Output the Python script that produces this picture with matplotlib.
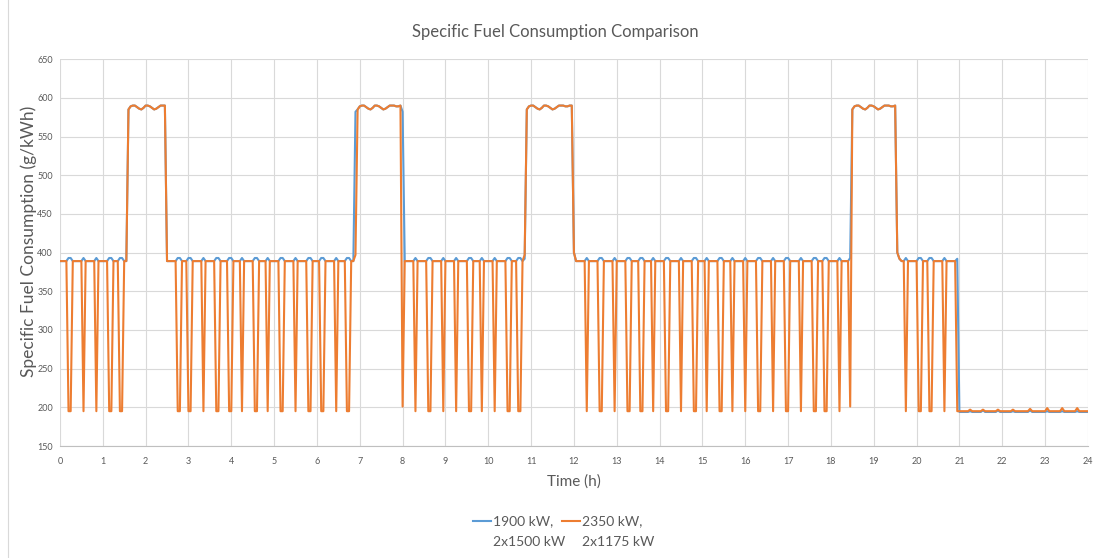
import numpy as np
import matplotlib
matplotlib.use("Agg")
import matplotlib.pyplot as plt
from matplotlib.lines import Line2D

plt.rcParams['font.family'] = ['Lato', 'DejaVu Sans']

# simulation is sampled every 3 minutes
step = 0.05
hours = np.round(np.arange(0, 24 + step / 2, step), 2)

base_sfc = 389      # g/kWh, normal load
bump_sfc = 393      # 1900 kW set while the 2350 kW set drops
low_sfc = 195       # 2350 kW set running low
night_sfc_2350 = 195
night_sfc_1900 = 194

# (first, last) hour of each drop of the 2350 kW series
dips_2350 = [
    (0.20, 0.25), (0.55, 0.55), (0.85, 0.85), (1.15, 1.20), (1.40, 1.45),
    (2.75, 2.80), (3.00, 3.05), (3.35, 3.35), (3.65, 3.70), (3.95, 4.00),
    (4.25, 4.25), (4.55, 4.60), (4.85, 4.85), (5.15, 5.20), (5.50, 5.50),
    (5.80, 5.85), (6.10, 6.15), (6.45, 6.45), (6.70, 6.75),
    (8.30, 8.30), (8.60, 8.65), (8.95, 8.95), (9.25, 9.25), (9.55, 9.60),
    (9.85, 9.85), (10.15, 10.15), (10.45, 10.50), (10.70, 10.75),
    (12.30, 12.30), (12.60, 12.65), (12.95, 12.95), (13.25, 13.30),
    (13.55, 13.60), (13.85, 13.85), (14.15, 14.20), (14.50, 14.50),
    (14.80, 14.85), (15.10, 15.10), (15.40, 15.45), (15.70, 15.70),
    (16.00, 16.00), (16.30, 16.35), (16.65, 16.65), (16.95, 17.00),
    (17.30, 17.30), (17.60, 17.65), (17.85, 17.90), (18.20, 18.20),
    (18.45, 18.45),
    (19.75, 19.75), (20.05, 20.10), (20.30, 20.35), (20.65, 20.65),
]

# (first, last) hour of the high-consumption plateaus
peaks_2350 = [(1.60, 2.45), (6.95, 7.95), (10.90, 11.95), (18.50, 19.50)]
peaks_1900 = [(1.60, 2.45), (6.95, 7.95), (10.90, 11.95), (18.50, 19.50)]
peak_wave = [585, 589, 590, 590, 588, 586, 585, 587, 590, 590, 589,
             587, 585, 586, 588, 590, 590, 590, 589, 589, 590, 590]

# single points on the ramps into / out of the plateaus
ramps_2350 = {6.90: 397, 8.00: 201, 10.85: 397, 12.00: 400,
              18.45: 201, 19.55: 400, 19.60: 392, 20.90: base_sfc}
ramps_1900 = {6.90: 582, 8.00: 582, 10.85: 392, 12.00: 400,
              19.55: 400, 19.60: 392, 20.90: base_sfc, 20.95: 392}

night_start_2350 = 20.95
night_start_1900 = 21.00
night_bumps_2350 = {21.25: 197, 21.55: 197, 21.90: 197, 22.25: 197,
                    22.65: 198, 23.05: 199, 23.40: 199, 23.75: 199}
night_bumps_1900 = {21.25: 195, 21.55: 196, 21.90: 196, 22.25: 195,
                    22.65: 196, 23.05: 195, 23.40: 195, 23.75: 195}


def idx(h):
    return int(round(h / step))


sfc_2350 = np.full(hours.size, base_sfc, dtype=float)
sfc_1900 = np.full(hours.size, base_sfc, dtype=float)

for a, b in dips_2350:
    sfc_2350[idx(a):idx(b) + 1] = low_sfc
    sfc_1900[idx(a):idx(b) + 1] = bump_sfc

for a, b in peaks_2350:
    sfc_2350[idx(a):idx(b) + 1] = peak_wave[:idx(b) - idx(a) + 1]
for a, b in peaks_1900:
    sfc_1900[idx(a):idx(b) + 1] = peak_wave[:idx(b) - idx(a) + 1]

for h, v in ramps_2350.items():
    sfc_2350[idx(h)] = v
for h, v in ramps_1900.items():
    sfc_1900[idx(h)] = v

sfc_2350[idx(night_start_2350):] = night_sfc_2350
sfc_1900[idx(night_start_1900):] = night_sfc_1900
for h, v in night_bumps_2350.items():
    sfc_2350[idx(h)] = v
for h, v in night_bumps_1900.items():
    sfc_1900[idx(h)] = v

labels = ['1900 kW,\n2x1500 kW', '2350 kW,\n2x1175 kW']
colors = ['#5B9BD5', '#ED7D31']
text_grey = '#595959'
grid_grey = '#D9D9D9'

fig = plt.figure(figsize=(11, 5.58), dpi=100)
ax = fig.add_axes([0.0545, 0.2007, 0.9345, 0.6933])

ax.plot(hours, sfc_1900, color=colors[0], lw=1.5)
ax.plot(hours, sfc_2350, color=colors[1], lw=1.5)

ax.set_xlim(0, 24)
ax.set_ylim(150, 650)
ax.set_xticks(range(0, 25))
ax.set_yticks(range(150, 651, 50))
ax.grid(True, color=grid_grey, lw=0.8)
ax.set_axisbelow(True)
for s in ['top', 'right', 'left']:
    ax.spines[s].set_visible(False)
ax.spines['bottom'].set_color('#BFBFBF')
ax.tick_params(length=0, labelsize=6.5, labelcolor=text_grey)
ax.tick_params(axis='y', pad=5)
ax.tick_params(axis='x', pad=8)

fig.text(0.505, 0.942, 'Specific Fuel Consumption Comparison', fontsize=12,
         color=text_grey, ha='center', va='center')
ax.set_xlabel('Time (h)', fontsize=11, color=text_grey, labelpad=6)
ax.set_ylabel('Specific Fuel Consumption (g/kWh)', fontsize=12.5,
              color=text_grey)
ax.yaxis.set_label_coords(-0.022, 0.53)

# legend drawn by hand so the key line sits on the first text line
leg_x = [0.430, 0.511]
for i in range(2):
    fig.add_artist(Line2D([leg_x[i], leg_x[i] + 0.016], [0.066, 0.066],
                          color=colors[i], lw=1.5))
    fig.text(leg_x[i] + 0.018, 0.066, labels[i].split('\n')[0], fontsize=10,
             color=text_grey, va='center', ha='left')
    fig.text(leg_x[i] + 0.018, 0.029, labels[i].split('\n')[1], fontsize=10,
             color=text_grey, va='center', ha='left')

fig.add_artist(Line2D([0.007, 0.007], [0, 1], color='#D9D9D9', lw=0.8))

fig.savefig('out.png', dpi=100)
